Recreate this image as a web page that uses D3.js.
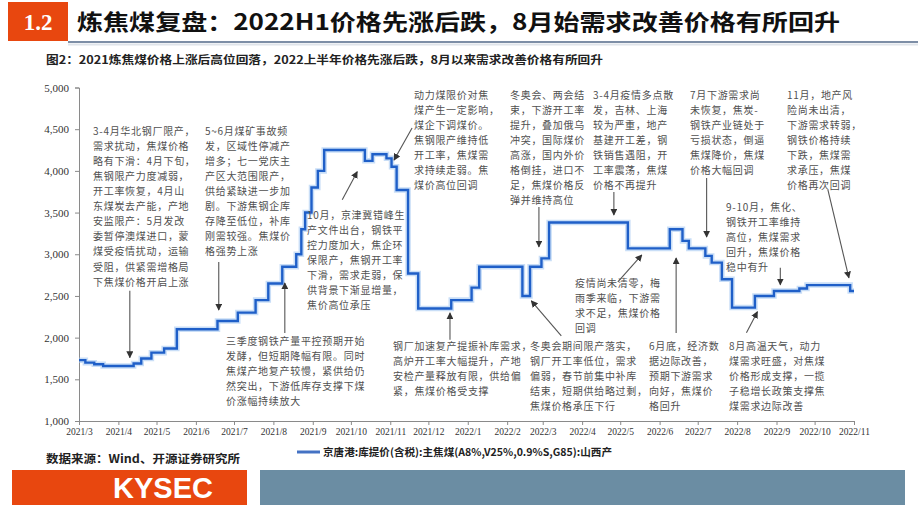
<!DOCTYPE html>
<html><head><meta charset="utf-8">
<script src="https://cdn.jsdelivr.net/npm/d3@7"></script>
<style>
body{margin:0;background:#fff;}
svg{display:block;}
.note{font-family:"Noto Sans CJK SC",sans-serif;font-size:10px;fill:#505050;letter-spacing:0.7px;}
</style></head>
<body>
<svg id="c" width="920" height="518"></svg>
<script>
// ---- data ----
const dates = ["2021-03-01","2021-03-06","2021-03-13","2021-03-20","2021-04-13","2021-04-19","2021-04-27","2021-05-07","2021-05-17","2021-06-18","2021-07-04","2021-07-18","2021-07-28","2021-08-08","2021-08-19","2021-08-23","2021-08-26","2021-08-31","2021-09-05","2021-09-10","2021-10-12","2021-10-18","2021-10-29","2021-11-02","2021-11-06","2021-11-15","2021-11-23","2021-12-19","2022-01-04","2022-01-10","2022-02-13","2022-02-19","2022-02-28","2022-03-06","2022-05-07","2022-06-09","2022-06-19","2022-06-24","2022-07-07","2022-07-12","2022-07-20","2022-07-28","2022-08-15","2022-08-30","2022-09-19","2022-09-25","2022-10-29","2022-11-01"];
const prices = [1730,1700,1680,1660,1690,1750,1820,1870,2100,2200,2300,2450,2650,2850,3000,3300,3500,3800,4000,4250,4120,4200,4150,4050,3770,2770,2350,2450,2600,2850,2500,2850,2950,3380,3070,3300,3160,3070,2980,2900,2700,2360,2500,2560,2590,2630,2560,2560];
const yTicks = [1000,1500,2000,2500,3000,3500,4000,4500,5000];
const xTickLabels = ["2021/3","2021/4","2021/5","2021/6","2021/7","2021/8","2021/9","2021/10","2021/11","2021/12","2022/1","2022/2","2022/3","2022/4","2022/5","2022/6","2022/7","2022/8","2022/9","2022/10","2022/11"];
const seriesName = "京唐港:库提价(含税):主焦煤(A8%,V25%,0.9%S,G85):山西产";
const titleText = "炼焦煤复盘：2022H1价格先涨后跌，8月始需求改善价格有所回升";
const subtitleText = "图2：2021炼焦煤价格上涨后高位回落，2022上半年价格先涨后跌，8月以来需求改善价格有所回升";
const sourceText = "数据来源：Wind、开源证券研究所";

// annotation texts
const notesText = {
  A:["3-4月华北钢厂限产，","需求扰动，焦煤价格","略有下滑：4月下旬，","焦钢限产力度减弱，","开工率恢复，4月山","东煤炭去产能，产地","安监限产：5月发改","委暂停澳煤进口，蒙","煤受疫情扰动，运输","受阻，供紧需增格局","下焦煤价格开启上涨"],
  B:["5~6月煤矿事故频","发，区域性停减产","增多；七一党庆主","产区大范围限产，","供给紧缺进一步加","剧。下游焦钢企库","存降至低位，补库","刚需较强。焦煤价","格强势上涨"],
  C:["10月，京津冀错峰生","产文件出台，钢铁平","控力度加大，焦企环","保限产，焦钢开工率","下滑，需求走弱，保","供背景下渐显增量，","焦价高位承压"],
  D:["三季度钢铁产量平控预期开始","发酵，但短期降幅有限。同时","焦煤产地复产较慢，紧供给仍","然突出，下游低库存支撑下煤","价涨幅持续放大"],
  E:["动力煤限价对焦","煤产生一定影响，","煤企下调煤价。","焦钢限产维持低","开工率，焦煤需","求持续走弱。焦","煤价高位回调"],
  F:["冬奥会、两会结","束，下游开工率","提升，叠加俄乌","冲突，国际煤价","高涨，国内外价","格倒挂，进口不","足，焦煤价格反","弹并维持高位"],
  G:["3-4月疫情多点散","发，吉林、上海","较为严重，地产","基建开工差，钢","铁销售遇阻，开","工率震荡，焦煤","价格不再提升"],
  H:["7月下游需求尚","未恢复，焦炭-","钢铁产业链处于","亏损状态，倒逼","焦煤降价，焦煤","价格大幅回调"],
  I:["11月，地产风","险尚未出清，","下游需求转弱，","钢铁价格持续","下跌，焦煤需","求承压，焦煤","价格再次回调"],
  J:["9-10月，焦化、","钢铁开工率维持","高位，焦煤需求","回升，焦煤价格","稳中有升"],
  K:["疫情尚未清零，梅","雨季来临，下游需","求不足，焦煤价格","回调"],
  L:["冬奥会期间限产落实，","钢厂开工率低位，需求","偏弱，春节前集中补库","结束，短期供给略过剩，","焦煤价格承压下行"],
  M:["钢厂加速复产提振补库需求，","高炉开工率大幅提升，产地","安检产量释放有限，供给偏","紧，焦煤价格受支撑"],
  N:["6月底，经济数","据边际改善，","预期下游需求","向好，焦煤价","格回升"],
  O:["8月高温天气，动力","煤需求旺盛，对焦煤","价格形成支撑，一揽","子稳增长政策支撑焦","煤需求边际改善"]
};
// arrow tips in data terms (date, value)
const arrowTipDates = {A:"2021-04-10",B:"2021-06-19",C:"2021-10-06",D:"2021-08-10",E:"2021-11-04",F:"2022-02-26",G:"2022-04-26",H:"2022-07-08",I:"2022-10-28",J:"2022-09-04",K:"2022-05-18",L:"2022-02-20",M:"2021-12-18",N:"2022-06-14",O:"2022-08-17"};
const arrowTipValues = {A:1760,B:2330,C:3990,D:2656,E:4130,F:3088,G:3471,H:3207,I:2716,J:2633,K:2992,L:2441,M:2297,N:2956,O:2311};

// ---- layout ----
const svg = d3.select("#c");
const parse = d3.timeParse("%Y-%m-%d");
const data = dates.map((d,i)=>({date:parse(d), value:prices[i]}));
const L = 79, R = 854, T = 87.5, B = 421;
const x = d3.scaleTime().domain([parse("2021-03-01"), parse("2022-11-01")]).range([L, R]);
const y = d3.scaleLinear().domain([1000,5000]).range([B, T]);

svg.append("rect").attr("width",920).attr("height",518).attr("fill","#fff");

// header
svg.append("rect").attr("x",8).attr("y",2).attr("width",60).attr("height",39).attr("fill","#e8470f");
svg.append("text").attr("x",38).attr("y",30).attr("text-anchor","middle")
  .attr("font-family","Liberation Serif").attr("font-weight","bold").attr("font-size",23).attr("fill","#fff").text("1.2");
svg.append("line").attr("x1",68).attr("x2",918).attr("y1",42).attr("y2",42).attr("stroke","#7d8ea6").attr("stroke-width",2);
svg.append("line").attr("x1",68).attr("x2",918).attr("y1",44.5).attr("y2",44.5).attr("stroke","#dfe4ea").attr("stroke-width",2);
svg.append("text").attr("x",77).attr("y",30)
  .attr("font-family","Noto Sans CJK SC").attr("font-weight","bold").attr("font-size",22).attr("fill","#111")
  .attr("textLength",763).attr("lengthAdjust","spacingAndGlyphs").text(titleText);
svg.append("text").attr("x",46).attr("y",64)
  .attr("font-family","Noto Sans CJK SC").attr("font-weight","bold").attr("font-size",11).attr("fill","#222")
  .attr("textLength",557).attr("lengthAdjust","spacingAndGlyphs").text(subtitleText);

// axes
const gy = svg.append("g").attr("transform",`translate(${L},0)`)
  .call(d3.axisLeft(y).tickValues(yTicks).tickFormat(d3.format(",")).tickSize(4).tickPadding(6));
const gx = svg.append("g").attr("transform",`translate(0,${B})`)
  .call(d3.axisBottom(x).ticks(d3.timeMonth.every(1)).tickFormat((d,i)=>xTickLabels[i]).tickSize(4).tickPadding(3));
[gy,gx].forEach(g=>{
  g.selectAll("path,line").attr("stroke","#8a8a8a");
  g.selectAll("text").attr("font-family","Liberation Serif").attr("fill","#333");
});
gy.selectAll("text").attr("font-size",11);
gx.selectAll("text").attr("font-size",9.5);

// line
const line = d3.line().x(d=>x(d.date)).y(d=>y(d.value)).curve(d3.curveStepAfter);
svg.append("path").datum(data).attr("d",line).attr("fill","none")
  .attr("stroke","#9cc3f0").attr("stroke-width",5.5).attr("stroke-opacity",0.55);
svg.append("path").datum(data).attr("d",line).attr("fill","none")
  .attr("stroke","#1f5fc8").attr("stroke-width",2.4);

// annotations (text layout)
const notePos = {A:[93,131],B:[205,131],C:[307,215],D:[226,341],E:[414,95],F:[510,95],G:[593,95],H:[690,95],I:[787,95],J:[726,207],K:[575,283],L:[530,346],M:[393,346],N:[649,346],O:[729,346]};
const lh = 15.1;
Object.keys(notesText).forEach(k=>{
  const [nx,ny] = notePos[k];
  const t = svg.append("text").attr("class","note");
  notesText[k].forEach((s,i)=>{
    t.append("tspan").attr("x",nx).attr("y",ny+3.6+i*lh).text(s);
  });
});

// arrows
const defs = svg.append("defs");
defs.append("marker").attr("id","ah").attr("viewBox","0 0 10 10").attr("refX",9).attr("refY",5)
  .attr("markerWidth",7).attr("markerHeight",7).attr("orient","auto-start-reverse").attr("markerUnits","userSpaceOnUse")
  .append("path").attr("d","M0,0L10,5L0,10z").attr("fill","#333");
const tailOffset = {A:[0,-67],B:[0,-48],C:[-15,28],D:[0,50],E:[18,-32],F:[0,-40],G:[0,-23],H:[0,-59],I:[-21,-88],J:[0,-17],K:[-24,27],L:[30,35],M:[0,27],N:[0,75],O:[-11,21]};
Object.keys(arrowTipDates).forEach(k=>{
  const tx = x(parse(arrowTipDates[k])), ty = y(arrowTipValues[k]);
  svg.append("line").attr("x1",tx+tailOffset[k][0]).attr("y1",ty+tailOffset[k][1])
    .attr("x2",tx).attr("y2",ty).attr("stroke","#555").attr("stroke-width",1.1).attr("marker-end","url(#ah)");
});

// legend
svg.append("line").attr("x1",297).attr("x2",320).attr("y1",452).attr("y2",452).attr("stroke","#4472c4").attr("stroke-width",3);
svg.append("text").attr("x",323).attr("y",456)
  .attr("font-family","Noto Sans CJK SC").attr("font-weight","bold").attr("font-size",10.5).attr("fill","#222")
  .attr("textLength",289).attr("lengthAdjust","spacingAndGlyphs").text(seriesName);
// source
svg.append("text").attr("x",46).attr("y",463)
  .attr("font-family","Noto Sans CJK SC").attr("font-weight","bold").attr("font-size",11).attr("fill","#222")
  .attr("textLength",194).attr("lengthAdjust","spacingAndGlyphs").text(sourceText);

// footer
svg.append("rect").attr("x",12).attr("y",470).attr("width",235).attr("height",35).attr("fill","#e8470f");
svg.append("text").attr("x",163).attr("y",498).attr("text-anchor","middle")
  .attr("font-family","Liberation Sans").attr("font-weight","bold").attr("font-size",29).attr("fill","#fff").text("KYSEC");
svg.append("rect").attr("x",260).attr("y",470).attr("width",645).attr("height",35).attr("fill","#6b8da3");
</script>
</body></html>
